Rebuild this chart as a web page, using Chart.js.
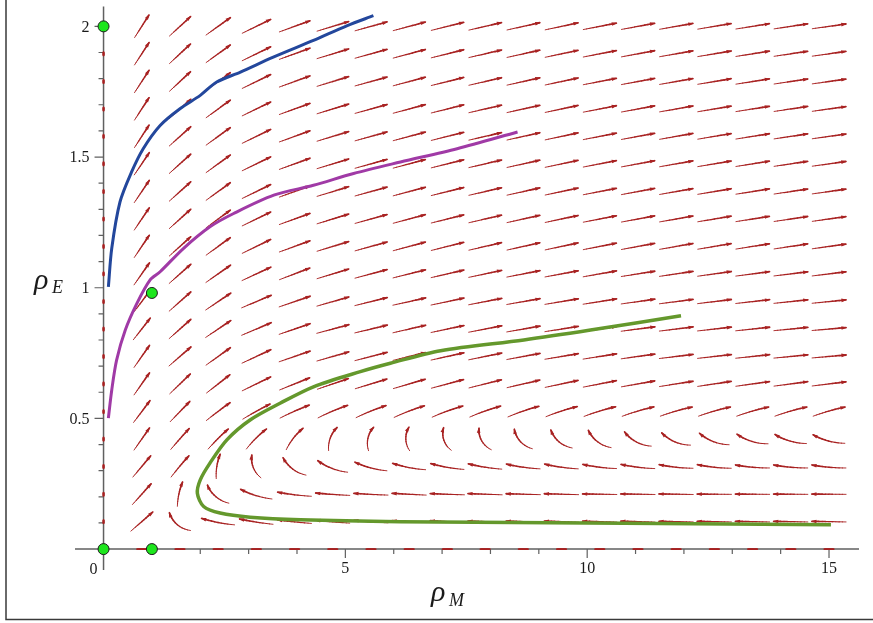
<!DOCTYPE html>
<html>
<head>
<meta charset="utf-8">
<title>Phase portrait</title>
<script src="https://cdn.jsdelivr.net/npm/chart.js@4"></script>
<style>html,body{margin:0;padding:0;background:#fff}canvas{display:block}</style>
</head>
<body>
<canvas id="chart" width="873" height="623"></canvas>
<script>
// direction field grid (20 x 20)
const fieldX = [0, 0.79, 1.58, 2.37, 3.16, 3.95, 4.74, 5.53, 6.32, 7.11, 7.89, 8.68, 9.47, 10.26, 11.05, 11.84, 12.63, 13.42, 14.21, 15];
const fieldY = [0, 0.105, 0.21, 0.316, 0.421, 0.526, 0.632, 0.737, 0.842, 0.947, 1.053, 1.158, 1.263, 1.368, 1.474, 1.579, 1.684, 1.789, 1.895, 2];

// heading of each arrow in degrees on screen (0 = right, 90 = up), one row per fieldY value
const fieldAngle = [
  [null, 0, 180, 180, 180, 180, 180, 180, 180, 180, 180, 180, 180, 180, 180, 180, 180, 180, 180, 180],
  [90, 41, 140, 169, 171, 174, 175, 176, 177, 177, 178, 178, 178, 178.5, 178.5, 179, 179, 179, 179, 179],
  [90, 48, 78, 140, 163, 173, 176, 177, 177, 178, 178, 178.5, 178.5, 179, 179, 179, 179.5, 179.5, 179.5, 179.5],
  [90, 50, 50, 81, 112, 143, 159, 165, 169, 170, 171, 172, 172, 173, 173, 174, 174, 175, 175, 175],
  [90, 55, 48.5, 45, 45, 52, 70, 78, 92, 109, 120, 133, 140, 143, 152, 157, 159, 163, 164, 165],
  [90, 53, 46, 37, 29, 24, 23, 22, 21, 20, 19.5, 19, 18, 17, 16.5, 16, 16, 16, 16, 16],
  [90, 55, 44, 38, 26, 22, 19, 17, 16.4, 15, 14, 13, 12, 11, 10, 9, 8.5, 8, 7.5, 7],
  [90, 55, 41, 35.6, 25, 19, 16, 14.5, 13.6, 12.5, 11.5, 10.5, 9.5, 9, 8, 7, 6.5, 6, 5.5, 5],
  [90, 52, 41.6, 34, 23, 19, 15, 13.5, 13, 12, 11, 10, 9, 8.5, 7.5, 7, 6.5, 6, 5.5, 5],
  [90, 53, 41.6, 34, 23, 19, 16, 14, 12.5, 12, 11, 10, 9.5, 9, 8, 7.5, 7, 6.5, 6, 5.7],
  [90, 55, 41.6, 35, 25, 21, 17, 15, 14, 13, 12, 11, 10.5, 10, 9, 8.5, 8, 7.5, 7, 7],
  [90, 56, 42, 36, 26, 20, 17, 15.5, 15, 14, 13, 12.5, 12, 11, 10.5, 10, 9.5, 9, 8.5, 8],
  [90, 56, 42, 36, 26, 20, 17, 15.5, 15, 14, 13, 12.5, 12, 11, 10.5, 10, 9.5, 9, 8.5, 8],
  [90, 56, 42, 36, 26, 20, 17, 15.5, 15, 14, 13, 12.5, 12, 11, 10.5, 10, 9.5, 9, 8.5, 8],
  [90, 56, 42, 36, 26, 20, 17, 15.5, 15, 14, 13, 12.5, 12, 11, 10.5, 10, 9.5, 9, 8.5, 8],
  [90, 57, 42, 36, 26, 20, 17, 15.5, 15, 14, 13, 12.5, 12, 11, 10.5, 10, 9.5, 9, 8.5, 8],
  [90, 57, 42, 36, 26, 20, 17, 15.5, 15, 14, 13, 12.5, 12, 11, 10.5, 10, 9.5, 9, 8.5, 8],
  [90, 57, 43, 36, 26, 20, 17, 15.5, 15, 14, 13, 12.5, 12, 11, 10.5, 10, 9.5, 9, 8.5, 8],
  [90, 57, 43, 36, 26, 20, 17, 15.5, 15, 14, 13, 12.5, 12, 11, 10.5, 10, 9.5, 9, 8.5, 8],
  [null, 57.5, 42.6, 35.6, 26, 20, 17, 15.5, 15, 14, 13, 12.5, 12, 11, 10.5, 10, 9.5, 9, 8.5, 8]
];

// how much each arrow turns along its length (degrees, negative = clockwise)
const flat = [0, 0, 0, 0, 0, 0, 0, 0, 0, 0, 0, 0, 0, 0, 0, 0, 0, 0, 0, 0];
const fieldBend = [
  flat,
  [0, 0, -65, -12, -6, -3, -2, -1, 0, 0, 0, 0, 0, 0, 0, 0, 0, 0, 0, 0],
  [0, 0, -20, -55, -20, -8, -3, -2, -1, -1, 0, 0, 0, 0, 0, 0, 0, 0, 0, 0],
  [0, 0, -5, -25, -60, -50, -30, -20, -15, -12, -10, -10, -10, -10, -10, -10, -10, -10, -10, -10],
  [0, 0, -3, -8, -15, -25, -50, -60, -65, -70, -70, -65, -60, -55, -50, -45, -40, -35, -30, -28],
  [0, 0, 0, -3, -5, -6, -8, -8, -8, -8, -8, -8, -8, -8, -8, -8, -8, -8, -8, -8],
  flat, flat, flat, flat, flat, flat, flat, flat, flat, flat, flat, flat, flat, flat
];

// solution curves
const blueX = [0.10, 0.17, 0.34, 0.58, 0.82, 1.17, 1.58, 2.00, 2.34, 2.83, 3.51, 4.34, 5.04, 5.58];
const blueY = [1.003, 1.151, 1.328, 1.443, 1.532, 1.621, 1.685, 1.736, 1.787, 1.825, 1.882, 1.946, 2.003, 2.041];
const purpleX = [0.10, 0.17, 0.27, 0.45, 0.69, 0.96, 1.17, 1.65, 2.20, 2.69, 3.52, 4.34, 5.17, 6.14, 7.31, 8.56];
const purpleY = [0.501, 0.609, 0.723, 0.838, 0.940, 1.029, 1.061, 1.150, 1.233, 1.284, 1.354, 1.392, 1.437, 1.481, 1.532, 1.596];
const greenX = [15.04, 10.76, 6.14, 4.07, 3.03, 2.41, 2.07, 1.94, 2.00, 2.20, 2.55, 3.03, 3.65, 4.34, 5.31, 5.93, 6.97, 8.69, 10.07, 11.94];
const greenY = [0.093, 0.099, 0.105, 0.112, 0.122, 0.138, 0.163, 0.214, 0.265, 0.329, 0.418, 0.494, 0.558, 0.621, 0.679, 0.711, 0.759, 0.800, 0.838, 0.893];

// equilibrium points
const eqX = [0, 1, 0, 1];
const eqY = [0, 0, 2, 0.98];

const xTickLabels = [5, 10, 15];
const yTickLabels = [0.5, 1, 1.5, 2];

const pts = (xs, ys) => xs.map((v, i) => ({ x: v, y: ys[i] }));

function drawArrow(ctx, cx, cy, deg, bend, lh, lv, scale, head) {
  const th = deg * Math.PI / 180, b = bend * Math.PI / 180;
  const len = scale / Math.hypot(Math.cos(th) / lh, Math.sin(th) / lv);
  const n = 10, p = [[0, 0]];
  let px = 0, py = 0;
  for (let k = 0; k < n; k++) {
    const h = th - b / 2 + b * (k + 0.5) / n;
    px += Math.cos(h) * len / n;
    py -= Math.sin(h) * len / n;
    p.push([px, py]);
  }
  const ox = cx - px / 2, oy = cy - py / 2;
  ctx.lineCap = 'round';
  for (let k = 0; k < n; k++) {
    ctx.beginPath();
    ctx.lineWidth = head ? 0.9 + 1.0 * k / n : 1.7;
    ctx.moveTo(ox + p[k][0], oy + p[k][1]);
    ctx.lineTo(ox + p[k + 1][0], oy + p[k + 1][1]);
    ctx.stroke();
  }
  if (head) {
    const he = th + b / 2, ux = Math.cos(he), uy = -Math.sin(he);
    const tx = ox + px, ty = oy + py;
    ctx.beginPath();
    ctx.moveTo(tx + ux * 1.3, ty + uy * 1.3);
    ctx.lineTo(tx - ux * 4.5 - uy * 1.8, ty - uy * 4.5 + ux * 1.8);
    ctx.lineTo(tx - ux * 4.5 + uy * 1.8, ty - uy * 4.5 - ux * 1.8);
    ctx.closePath();
    ctx.fill();
  }
}

const fieldPlugin = {
  id: 'field',
  beforeDatasetsDraw(chart) {
    const { ctx, scales: { x, y }, chartArea: a } = chart;
    const x0 = x.getPixelForValue(0), y0 = y.getPixelForValue(0);
    ctx.save();

    // frame
    ctx.strokeStyle = '#3a3a3a';
    ctx.lineWidth = 1.5;
    ctx.beginPath();
    ctx.moveTo(6, 0); ctx.lineTo(6, 619.5); ctx.lineTo(873, 619.5);
    ctx.stroke();

    // axes through the origin
    ctx.strokeStyle = '#606060';
    ctx.lineWidth = 1.5;
    ctx.beginPath();
    ctx.moveTo(a.left, y0); ctx.lineTo(a.right, y0);
    ctx.moveTo(x0, a.top); ctx.lineTo(x0, a.bottom);
    ctx.stroke();
    ctx.lineWidth = 1.2;
    ctx.beginPath();
    for (let v = 1; v <= 15; v++) {
      const px = x.getPixelForValue(v);
      ctx.moveTo(px, y0); ctx.lineTo(px, y0 + (v % 5 === 0 ? 9 : 5));
    }
    for (let k = 1; k <= 20; k++) {
      const py = y.getPixelForValue(k / 10);
      ctx.moveTo(x0, py); ctx.lineTo(x0 - (k % 5 === 0 ? 9 : 5), py);
    }
    ctx.stroke();

    // tick labels
    ctx.fillStyle = '#1a1a1a';
    ctx.font = '16px "Liberation Serif", serif';
    ctx.textAlign = 'center';
    ctx.textBaseline = 'top';
    xTickLabels.forEach(v => ctx.fillText(String(v), x.getPixelForValue(v), y0 + 12));
    ctx.textAlign = 'right';
    ctx.fillText('0', x0 - 6, y0 + 13);
    ctx.textBaseline = 'middle';
    yTickLabels.forEach(v => ctx.fillText(String(v), x0 - 14, y.getPixelForValue(v) + 1));

    // axis titles
    ctx.textAlign = 'left';
    ctx.textBaseline = 'alphabetic';
    const yE = y.getPixelForValue(1);
    ctx.font = 'italic 30px "Liberation Serif", serif';
    ctx.fillText('ρ', 34, yE + 1);
    ctx.font = 'italic 18px "Liberation Serif", serif';
    ctx.fillText('E', 52, yE + 5);
    ctx.font = 'italic 30px "Liberation Serif", serif';
    ctx.fillText('ρ', 431, 601);
    ctx.font = 'italic 18px "Liberation Serif", serif';
    ctx.fillText('M', 449, 606);

    // direction field arrows
    const lh = Math.abs(x.getPixelForValue(15) - x0) * 0.047;
    const lv = Math.abs(y.getPixelForValue(2) - y0) * 0.047;
    ctx.strokeStyle = '#a82222';
    ctx.fillStyle = '#a82222';
    fieldY.forEach((yv, j) => fieldX.forEach((xv, i) => {
      const deg = fieldAngle[j][i];
      if (deg === null) return;
      let s = 1, head = true;
      if (j === 0) { s = 0.28; head = false; }
      if (i === 0) { s = 0.14; head = false; }
      drawArrow(ctx, x.getPixelForValue(xv), y.getPixelForValue(yv), deg, fieldBend[j][i], lh, lv, s, head);
    }));
    ctx.restore();
  }
};

new Chart(document.getElementById('chart'), {
  type: 'scatter',
  data: {
    datasets: [
      { data: pts(eqX, eqY), pointRadius: 5.5, pointBackgroundColor: '#1de61d', pointBorderColor: '#1b1b1b', pointBorderWidth: 1, clip: false, order: 0 },
      { data: pts(blueX, blueY), showLine: true, borderColor: '#23479c', borderWidth: 3, pointRadius: 0, tension: 0.3, order: 1 },
      { data: pts(purpleX, purpleY), showLine: true, borderColor: '#a03aa6', borderWidth: 3, pointRadius: 0, tension: 0.3, order: 1 },
      { data: pts(greenX, greenY), showLine: true, borderColor: '#64982c', borderWidth: 3.5, pointRadius: 0, tension: 0.3, order: 1 }
    ]
  },
  options: {
    responsive: false,
    devicePixelRatio: 1,
    animation: false,
    layout: { padding: { left: 75, right: 14, top: 6, bottom: 53 } },
    scales: {
      x: { type: 'linear', min: -0.59, max: 15.62, display: false },
      y: { type: 'linear', min: -0.08, max: 2.076, display: false }
    },
    plugins: { legend: { display: false }, tooltip: { enabled: false } }
  },
  plugins: [fieldPlugin]
});
</script>
</body>
</html>
